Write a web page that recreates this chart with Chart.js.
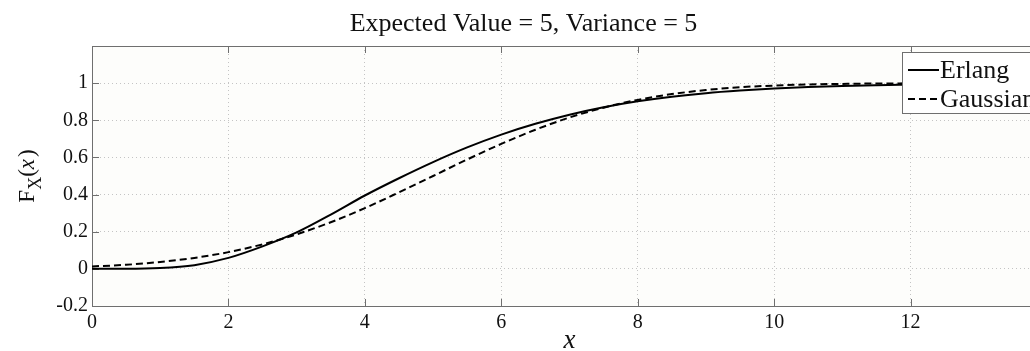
<!DOCTYPE html>
<html>
<head>
<meta charset="utf-8">
<script src="https://cdn.jsdelivr.net/npm/chart.js@4"></script>
<style>
  html, body { margin: 0; padding: 0; background: #fff; overflow: hidden; }
  #wrap { width: 1030px; height: 351px; overflow: hidden; }
</style>
</head>
<body>
<div id="wrap"><canvas id="cdfChart" width="1100" height="351"></canvas></div>
<script>
// CDF samples, E[X] = 5, Var[X] = 5
const xPoints = [0, 0.5, 1, 1.5, 2, 2.5, 3, 3.5, 4, 4.5, 5, 5.5, 6, 6.5, 7,
                 7.5, 8, 8.5, 9, 9.5, 10, 10.5, 11, 11.5, 12, 12.5, 13, 13.5, 14];
const erlangCdf = [0, 0.000, 0.004, 0.020, 0.059, 0.121, 0.196, 0.292, 0.395, 0.488,
                   0.575, 0.654, 0.723, 0.781, 0.830, 0.870, 0.902, 0.927, 0.946, 0.960,
                   0.971, 0.979, 0.985, 0.989, 0.992, 0.995, 0.996, 0.997, 0.998];
const gaussianCdf = [0.013, 0.022, 0.037, 0.059, 0.090, 0.132, 0.186, 0.251, 0.327, 0.412,
                     0.500, 0.589, 0.673, 0.749, 0.815, 0.868, 0.910, 0.941, 0.963, 0.978,
                     0.987, 0.993, 0.996, 0.998, 0.999, 1.000, 1.000, 1.000, 1.000];
const xTickValues = [0, 2, 4, 6, 8, 10, 12, 14];
const yTickValues = [-0.2, 0, 0.2, 0.4, 0.6, 0.8, 1];

const SERIF = '"Liberation Serif", "Times New Roman", serif';
const FRAME = '#6f6f6f';

function pairs(ys) {
  return xPoints.map((x, i) => ({ x: x, y: ys[i] }));
}

// white page, slightly warm plot area
const background = {
  id: 'background',
  beforeDraw(chart) {
    const { ctx, chartArea: a } = chart;
    ctx.save();
    ctx.fillStyle = '#ffffff';
    ctx.fillRect(0, 0, chart.width, chart.height);
    ctx.fillStyle = '#fdfdfb';
    ctx.fillRect(a.left, a.top, a.right - a.left, a.bottom - a.top);
    ctx.restore();
  }
};

// box around the axes with matlab-style inward ticks
const frame = {
  id: 'frame',
  beforeDatasetsDraw(chart) {
    const { ctx, chartArea: a, scales } = chart;
    ctx.save();
    ctx.strokeStyle = FRAME;
    ctx.lineWidth = 1;
    ctx.strokeRect(a.left + 0.5, a.top + 0.5, a.right - a.left, a.bottom - a.top);
    ctx.beginPath();
    xTickValues.forEach(v => {
      const px = Math.round(scales.x.getPixelForValue(v)) + 0.5;
      ctx.moveTo(px, a.bottom); ctx.lineTo(px, a.bottom - 7);
      ctx.moveTo(px, a.top); ctx.lineTo(px, a.top + 7);
    });
    yTickValues.forEach(v => {
      const py = Math.round(scales.y.getPixelForValue(v)) + 0.5;
      ctx.moveTo(a.left, py); ctx.lineTo(a.left + 7, py);
      ctx.moveTo(a.right, py); ctx.lineTo(a.right - 7, py);
    });
    ctx.stroke();
    ctx.restore();
  }
};

// legend box in the upper right corner of the plot
const boxLegend = {
  id: 'boxLegend',
  afterDatasetsDraw(chart) {
    const { ctx } = chart;
    const left = 902, top = 52, w = 190, h = 61;
    ctx.save();
    ctx.fillStyle = '#ffffff';
    ctx.fillRect(left, top, w, h);
    ctx.strokeStyle = FRAME;
    ctx.lineWidth = 1;
    ctx.strokeRect(left + 0.5, top + 0.5, w, h);
    ctx.font = '26px ' + SERIF;
    ctx.fillStyle = '#111';
    ctx.textBaseline = 'alphabetic';
    chart.data.datasets.forEach((ds, i) => {
      const y = top + 18 + i * 29;
      ctx.strokeStyle = ds.borderColor;
      ctx.lineWidth = ds.borderWidth;
      ctx.setLineDash(ds.borderDash || []);
      ctx.beginPath();
      ctx.moveTo(left + 6, y);
      ctx.lineTo(left + 37, y);
      ctx.stroke();
      ctx.setLineDash([]);
      ctx.fillText(ds.label, left + 38, y + 8);
    });
    ctx.restore();
  }
};

// rotated y-axis title F_X(x)
const yTitle = {
  id: 'yTitle',
  afterDraw(chart) {
    const { ctx, chartArea: a } = chart;
    ctx.save();
    ctx.translate(34, (a.top + a.bottom) / 2);
    ctx.rotate(-Math.PI / 2);
    ctx.fillStyle = '#111';
    ctx.textBaseline = 'alphabetic';
    const big = '23px ' + SERIF, sub = '18px ' + SERIF, ital = 'italic 23px ' + SERIF;
    ctx.font = big;  const wF = ctx.measureText('F').width;
    ctx.font = sub;  const wX = ctx.measureText('X').width;
    ctx.font = big;  const wP = ctx.measureText('(').width;
    ctx.font = ital; const wx = ctx.measureText('x').width;
    const total = wF + wX + wP * 2 + wx + 2;
    let x = -total / 2;
    ctx.font = big;  ctx.fillText('F', x, 0); x += wF;
    ctx.font = sub;  ctx.fillText('X', x, 7); x += wX;
    ctx.font = big;  ctx.fillText('(', x, 0); x += wP;
    ctx.font = ital; ctx.fillText('x', x, 0); x += wx + 2;
    ctx.font = big;  ctx.fillText(')', x, 0);
    ctx.restore();
  }
};

new Chart(document.getElementById('cdfChart'), {
  type: 'line',
  data: {
    datasets: [{
      label: 'Erlang',
      data: pairs(erlangCdf),
      borderColor: '#000000',
      borderWidth: 2,
      pointRadius: 0,
      cubicInterpolationMode: 'monotone'
    }, {
      label: 'Gaussian',
      data: pairs(gaussianCdf),
      borderColor: '#000000',
      borderWidth: 2,
      borderDash: [7, 4],
      pointRadius: 0,
      cubicInterpolationMode: 'monotone'
    }]
  },
  options: {
    responsive: false,
    animation: false,
    devicePixelRatio: 1,
    layout: { padding: { left: 0, right: 53, top: 0, bottom: 0 } },
    plugins: {
      legend: { display: false },
      tooltip: { enabled: false },
      title: {
        display: true,
        text: 'Expected Value = 5, Variance = 5',
        color: '#111',
        font: { family: SERIF, size: 26, weight: 'normal', lineHeight: 1.2 },
        padding: { top: 9, bottom: 5.8 }
      }
    },
    scales: {
      x: {
        type: 'linear',
        min: 0,
        max: 14,
        afterBuildTicks: s => { s.ticks = xTickValues.map(v => ({ value: v })); },
        afterFit: s => { s.height = 45; },
        grid: { color: '#c4c4c4', drawTicks: false },
        border: { display: false, dash: [1, 3] },
        ticks: {
          color: '#111',
          padding: 5,
          maxRotation: 0,
          font: { family: SERIF, size: 20 },
          callback: v => String(v)
        },
        title: {
          display: true,
          text: 'x',
          color: '#111',
          font: { family: SERIF, size: 27, style: 'italic', lineHeight: 0.5 },
          padding: { top: 0, bottom: 3 }
        }
      },
      y: {
        min: -0.2,
        max: 1.2,
        afterBuildTicks: s => { s.ticks = yTickValues.map(v => ({ value: v })); },
        afterFit: s => { s.width = 92; },
        grid: { color: '#c4c4c4', drawTicks: false },
        border: { display: false, dash: [1, 3] },
        ticks: {
          color: '#111',
          padding: 4,
          font: { family: SERIF, size: 20 },
          callback: v => String(Number(v.toFixed(1)))
        }
      }
    }
  },
  plugins: [background, frame, boxLegend, yTitle]
});
</script>
</body>
</html>
